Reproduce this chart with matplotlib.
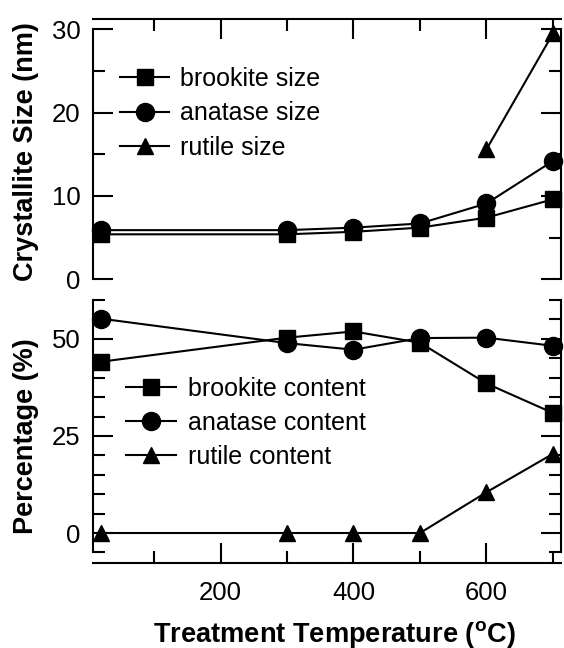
import numpy as np
import matplotlib.pyplot as plt
from matplotlib.ticker import FixedLocator

plt.rcParams['font.family'] = ['Liberation Sans', 'DejaVu Sans']
plt.rcParams['mathtext.fontset'] = 'custom'
plt.rcParams['mathtext.rm'] = 'Liberation Sans'
plt.rcParams['mathtext.bf'] = 'Liberation Sans:bold'

temps = [20, 300, 400, 500, 600, 700]

brookite_size = [5.4, 5.4, 5.7, 6.2, 7.4, 9.6]
anatase_size = [5.9, 5.9, 6.2, 6.7, 9.1, 14.2]
rutile_temps = [600, 700]
rutile_size = [15.6, 29.5]

brookite_pct = [44.1, 50.3, 51.9, 49.0, 38.5, 30.9]
anatase_pct = [55.2, 48.9, 47.2, 50.2, 50.3, 48.2]
rutile_pct = [0, 0, 0, 0, 10.5, 20.4]

W, H = 564, 648
fig = plt.figure(figsize=(W / 100, H / 100), dpi=100)

def px_axes(x0, y0, x1, y1):
    return fig.add_axes([x0 / W, 1 - y1 / H, (x1 - x0) / W, (y1 - y0) / H])

ax1 = px_axes(93.3, 19, 560.7, 279.3)
ax2 = px_axes(93.3, 300, 560.7, 563.3)

lw = 1.5
style = dict(color='black', lw=lw, clip_on=False)
ax1.plot(temps, brookite_size, marker='s', ms=12, label='brookite size', **style)
ax1.plot(temps, anatase_size, marker='o', ms=13, label='anatase size', **style)
ax1.plot(rutile_temps, rutile_size, marker='^', ms=12, label='rutile size', **style)

ax2.plot(temps, brookite_pct, marker='s', ms=12, label='brookite content', **style)
ax2.plot(temps, anatase_pct, marker='o', ms=13, label='anatase content', **style)
ax2.plot(temps, rutile_pct, marker='^', ms=12, label='rutile content', **style)

for ax in (ax1, ax2):
    ax.set_xlim(8.7, 711.6)
    ax.xaxis.set_major_locator(FixedLocator([200, 400, 600]))
    ax.xaxis.set_minor_locator(FixedLocator([100, 300, 500, 700]))
    for s in ax.spines.values():
        s.set_linewidth(1.5)
    ax.tick_params(which='major', length=14.5, width=1.5)
    ax.tick_params(which='minor', length=8.5, width=1.5)
    ax.tick_params(axis='y', which='both', direction='in', left=True, right=True,
                   labelsize=18.5, pad=9)

ax1.set_ylim(0, 31.24)
ax1.yaxis.set_major_locator(FixedLocator([0, 10, 20, 30]))
ax1.yaxis.set_minor_locator(FixedLocator([5, 15, 25]))
ax1.spines['bottom'].set_visible(False)
ax1.spines['left'].set_bounds(0, 30)
ax1.spines['right'].set_bounds(0, 30)
ax1.tick_params(axis='x', which='both', direction='in', bottom=False, top=True,
                labelbottom=False, labeltop=False)

ax2.set_ylim(-7.8, 60)
ax2.yaxis.set_major_locator(FixedLocator([0, 25, 50]))
ax2.yaxis.set_minor_locator(FixedLocator([-5, 5, 10, 15, 20, 30, 35, 40, 45, 55, 60]))
ax2.spines['top'].set_visible(False)
ax2.spines['left'].set_bounds(-5, 60)
ax2.spines['right'].set_bounds(-5, 60)
ax2.tick_params(axis='x', which='both', direction='in', bottom=True, top=False,
                labelsize=18.5, pad=13)
ax2.tick_params(axis='x', which='minor', length=8.5)

ax1.legend(loc='center left', bbox_to_anchor=(120 / W, 1 - 113.3 / H),
           bbox_transform=fig.transFigure, frameon=False, fontsize=18,
           handlelength=1.96, handletextpad=0.45, labelspacing=0.42,
           borderpad=0, borderaxespad=0, numpoints=1)
ax2.legend(loc='center left', bbox_to_anchor=(126 / W, 1 - 423 / H),
           bbox_transform=fig.transFigure, frameon=False, fontsize=18,
           handlelength=2.0, handletextpad=0.5, labelspacing=0.4,
           borderpad=0, borderaxespad=0, numpoints=1)

fig.text(26 / W, 1 - 151.7 / H, 'Crystallite Size (nm)', rotation=90,
         ha='center', va='center', fontsize=19.5, fontweight='bold')
fig.text(26 / W, 1 - 435.8 / H, 'Percentage (%)', rotation=90,
         ha='center', va='center', fontsize=19.5, fontweight='bold')
fig.text(334 / W, 1 - 641.5 / H, r'Treatment Temperature ($^{\mathbf{o}}$C)',
         ha='center', va='baseline', fontsize=19.6, fontweight='bold')

fig.savefig('out.png', dpi=100)
